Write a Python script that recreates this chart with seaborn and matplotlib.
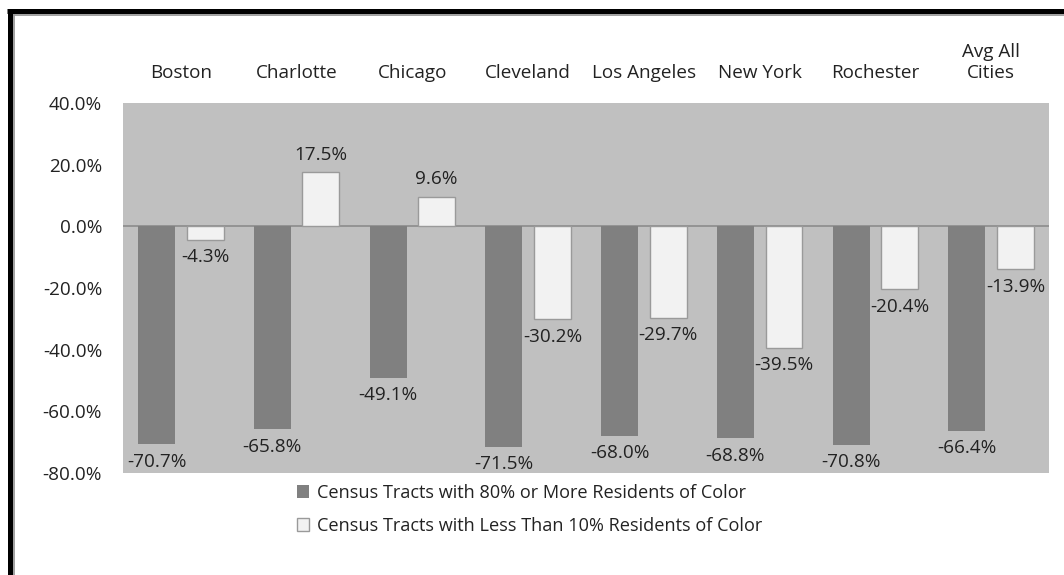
import numpy as np
import pandas as pd
import matplotlib
matplotlib.use('Agg')
import matplotlib.pyplot as plt
from matplotlib.lines import Line2D
from matplotlib.ticker import FuncFormatter
import seaborn as sns

cities = ['Boston', 'Charlotte', 'Chicago', 'Cleveland', 'Los Angeles',
          'New York', 'Rochester', 'Avg All\nCities']
high_color = [-70.7, -65.8, -49.1, -71.5, -68.0, -68.8, -70.8, -66.4]
low_color = [-4.3, 17.5, 9.6, -30.2, -29.7, -39.5, -20.4, -13.9]
series = ['Census Tracts with 80% or More Residents of Color',
          'Census Tracts with Less Than 10% Residents of Color']
y_ticks = [40, 20, 0, -20, -40, -60, -80]

df = pd.DataFrame({
    'city': cities * 2,
    'value': high_color + low_color,
    'series': [series[0]] * len(cities) + [series[1]] * len(cities),
})

FS = 13.6

sns.set_theme(style='white')
plt.rcParams['font.family'] = ['Open Sans', 'DejaVu Sans']
plt.rcParams['text.color'] = '#222222'

fig = plt.figure(figsize=(10.64, 5.75), dpi=100)
ax = fig.add_axes([0.1156, 0.1774, 0.8704, 0.6435])
ax.set_facecolor('#c0c0c0')

palette = {series[0]: '#808080', series[1]: '#f2f2f2'}
sns.barplot(data=df, x='city', y='value', hue='series', order=cities,
            hue_order=series, palette=palette, width=0.84, gap=0.24,
            saturation=1, ax=ax, legend=True)

# dark bars flat, light bars with a grey outline
for bar in ax.containers[0]:
    bar.set_edgecolor('none')
for bar in ax.containers[1]:
    bar.set_edgecolor('#9a9a9a')
    bar.set_linewidth(1.0)

for cont, vals in zip(ax.containers, [high_color, low_color]):
    ax.bar_label(cont, labels=[f'{v:.1f}%' for v in vals], padding=6,
                 fontsize=FS, color='#222222')

ax.axhline(0, color='#8c8c8c', lw=1.2, zorder=0.5)
ax.set_ylim(-80, 40)
ax.set_xlim(-0.5, len(cities) - 0.5)
ax.set_yticks(y_ticks)
ax.yaxis.set_major_formatter(FuncFormatter(lambda v, p: f'{v:.1f}%'))
ax.xaxis.tick_top()
ax.tick_params(axis='x', length=0, pad=15, labelsize=FS, labelcolor='#222222')
ax.tick_params(axis='y', length=0, pad=15, labelsize=FS, labelcolor='#222222')
ax.set_xlabel('')
ax.set_ylabel('')
for s in ax.spines.values():
    s.set_visible(False)

handles, labels = ax.get_legend_handles_labels()
ax.get_legend().remove()
for h in handles:
    h.set_edgecolor('#9a9a9a' if h.get_facecolor()[0] > 0.9 else 'none')
fig.legend(handles, labels, loc='upper left', bbox_to_anchor=(0.272, 0.171),
           frameon=False, fontsize=13.1, handlelength=0.7, handleheight=0.7,
           handletextpad=0.4, labelspacing=0.8, borderaxespad=0)

# frame around the picture
fig.add_artist(Line2D([9.5 / 1064, 9.5 / 1064], [0, 1 - 9 / 575],
                      color='black', lw=3.6, solid_capstyle='butt'))
fig.add_artist(Line2D([7 / 1064, 1], [1 - 11 / 575, 1 - 11 / 575],
                      color='black', lw=3.6, solid_capstyle='butt'))
fig.add_artist(Line2D([13.5 / 1064, 13.5 / 1064], [0, 1 - 14 / 575],
                      color='#999999', lw=1.3, solid_capstyle='butt'))
fig.add_artist(Line2D([13 / 1064, 1], [1 - 14.5 / 575, 1 - 14.5 / 575],
                      color='#999999', lw=1.3, solid_capstyle='butt'))

fig.savefig('out.png', dpi=100)
